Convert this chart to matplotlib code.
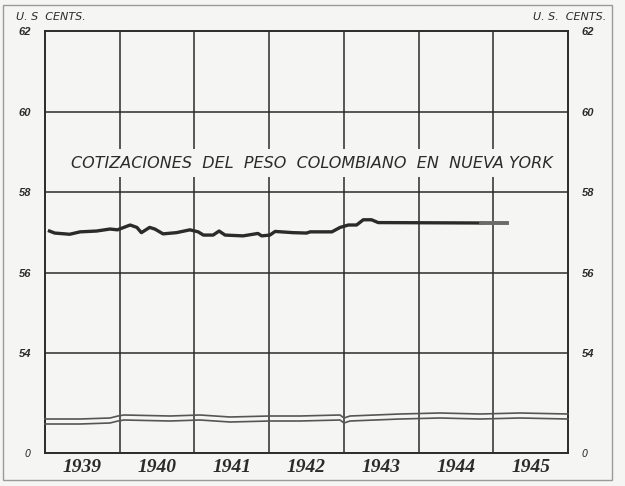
import matplotlib
matplotlib.use("Agg")
import matplotlib.pyplot as plt
from matplotlib.lines import Line2D
from matplotlib.patches import Rectangle

# ---- data ----
years = [1939.06, 1939.13, 1939.33, 1939.47, 1939.69, 1939.87, 1939.97, 1940.14,
         1940.23, 1940.29, 1940.40, 1940.47, 1940.58, 1940.76, 1940.94, 1941.05,
         1941.12, 1941.25, 1941.33, 1941.41, 1941.65, 1941.85, 1941.90, 1942.01,
         1942.08, 1942.32, 1942.50, 1942.55, 1942.84, 1942.95, 1943.06, 1943.17,
         1943.26, 1943.37, 1943.46, 1944.83]
cents = [57.03, 56.98, 56.95, 57.01, 57.03, 57.08, 57.06, 57.18,
         57.12, 56.99, 57.12, 57.08, 56.96, 56.99, 57.06, 57.01,
         56.93, 56.93, 57.03, 56.93, 56.91, 56.97, 56.91, 56.93,
         57.02, 56.99, 56.98, 57.01, 57.01, 57.12, 57.18, 57.18,
         57.31, 57.31, 57.24, 57.23]
tail_years = [1944.83, 1945.18]
tail_cents = [57.23, 57.23]

year_labels = ["1939", "1940", "1941", "1942", "1943", "1944", "1945"]
year_edges = [1939, 1940, 1941, 1942, 1943, 1944, 1945, 1946]
y_ticks = [54, 56, 58, 60, 62]
y_ticklabels = ["54", "56", "58", "60", "62"]

title = "COTIZACIONES  DEL  PESO  COLOMBIANO  EN  NUEVA YORK"
unit = "U. S  CENTS."
unit_r = "U. S.  CENTS."

BG = "#f5f5f3"
INK = "#2b2b2b"

W, H = 625, 486
fig = plt.figure(figsize=(W / 100, H / 100), dpi=100, facecolor=BG)

def fx(px):
    return px / W

def fy(py):
    return 1 - py / H

left, right = 45, 568
top, brk, bot = 31, 420, 453

ax = fig.add_axes([fx(left), fy(brk), fx(right - left), fy(top) - fy(brk)])
axl = fig.add_axes([fx(left), fy(bot), fx(right - left), fy(brk) - fy(bot)])

px_per_unit = (353 - 31) / 8.0
ymin = 54 - (brk - 353) / px_per_unit
for a in (ax, axl):
    a.set_facecolor(BG)
    a.set_xlim(year_edges[0], year_edges[-1])
    for sp in a.spines.values():
        sp.set_color(INK)
        sp.set_linewidth(1.4)
    for xe in year_edges[1:-1]:
        a.axvline(xe, color=INK, lw=1.1, zorder=1)

ax.set_ylim(ymin, 62)
ax.spines["bottom"].set_visible(False)
for yv in y_ticks[:-1]:
    ax.axhline(yv, color=INK, lw=1.1, zorder=1)
ax.set_xticks([])
ax.set_yticks(y_ticks)
ax.set_yticklabels(y_ticklabels)
ax.tick_params(axis="y", length=0, pad=10, labelleft=True, labelright=True,
               labelsize=8, labelcolor=INK)
for t in ax.get_yticklabels():
    t.set_fontstyle("italic")
    t.set_fontweight("bold")
    t.set_family("Liberation Sans")

axl.set_ylim(0, 1)
axl.spines["top"].set_visible(False)
axl.set_yticks([0])
axl.set_yticklabels(["0"])
axl.tick_params(axis="y", length=0, pad=10, labelleft=True, labelright=True,
                labelsize=7, labelcolor=INK)
for t in axl.get_yticklabels():
    t.set_fontstyle("italic")
axl.set_xticks([y + 0.5 for y in year_edges[:-1]])
axl.set_xticklabels(year_labels, family="Liberation Serif", fontsize=14,
                    fontweight="bold", fontstyle="italic", color=INK)
axl.tick_params(axis="x", length=0, pad=4)

# data line
ax.plot(years, cents, color=INK, lw=2.4, solid_joinstyle="round", zorder=3)
ax.plot(tail_years, tail_cents, color="#6a6a6a", lw=2.8, zorder=3)

# title with background box interrupting gridlines
ax.text(0.5, fy(163) - fy(brk), "", transform=ax.transAxes)
fig.text(fx(312), fy(163), title, ha="center", va="center", fontsize=11.5,
         fontstyle="italic", family="DejaVu Sans", color=INK,
         bbox=dict(facecolor=BG, edgecolor="none", pad=5))

# axis unit labels
fig.text(fx(16), fy(17), unit, ha="left", va="center", fontsize=8,
         fontstyle="italic", color=INK)
fig.text(fx(606), fy(17), unit_r, ha="right", va="center", fontsize=8,
         fontstyle="italic", color=INK)

# decorative wavy break lines
wx = [45, 80, 110, 118, 124, 170, 200, 230, 270, 300, 340, 344, 350, 400, 440, 480, 520, 568]
wy = [419, 419, 418, 416, 415, 416, 415, 417, 416, 416, 415, 418, 416, 414, 413, 414, 413, 414]
for off in (0, 5):
    fig.add_artist(Line2D([fx(v) for v in wx], [fy(v + off) for v in wy],
                          color="#555555", lw=1.2, transform=fig.transFigure))
fig.add_artist(Rectangle((fx(46), fy(421)), fx(521), fy(415) - fy(421),
                         facecolor=BG, edgecolor="none", transform=fig.transFigure,
                         zorder=-1))

# outer page frame
fig.add_artist(Rectangle((fx(3), fy(480)), fx(609), fy(5) - fy(480), fill=False,
                         edgecolor="#9a9a9a", lw=1.0, transform=fig.transFigure))

fig.savefig("out.png", dpi=100, facecolor=BG)
